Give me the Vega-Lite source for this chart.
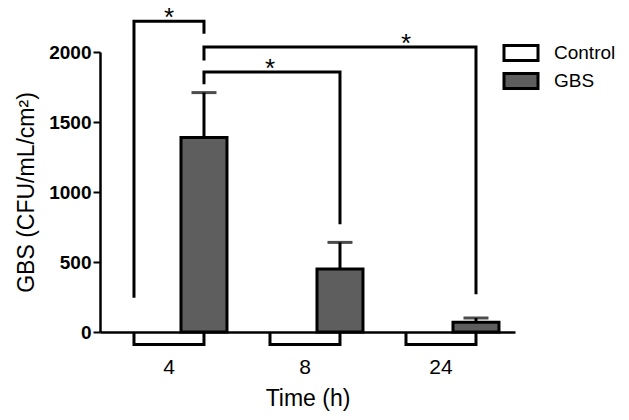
{
  "$schema": "https://vega.github.io/schema/vega-lite/v6.json",
  "width": 415,
  "height": 280,
  "autosize": {"type": "none"},
  "padding": {"left": 100, "top": 52, "right": 114, "bottom": 88},
  "config": {"view": {"stroke": null}, "font": "Liberation Sans"},
  "datasets": {
    "bars": [
      {"time": "4", "condition": "Control", "mean": 0, "upper": 0},
      {"time": "4", "condition": "GBS", "mean": 1390, "upper": 1710},
      {"time": "8", "condition": "Control", "mean": 0, "upper": 0},
      {"time": "8", "condition": "GBS", "mean": 450, "upper": 640},
      {"time": "24", "condition": "Control", "mean": 0, "upper": 0},
      {"time": "24", "condition": "GBS", "mean": 70, "upper": 100}
    ],
    "brackets": [
      {"bracket": "4h Control vs 4h GBS", "step": 1, "time": "4", "condition": "Control", "level": 245},
      {"bracket": "4h Control vs 4h GBS", "step": 2, "time": "4", "condition": "Control", "level": 2220},
      {"bracket": "4h Control vs 4h GBS", "step": 3, "time": "4", "condition": "GBS", "level": 2220},
      {"bracket": "4h Control vs 4h GBS", "step": 4, "time": "4", "condition": "GBS", "level": 2130},
      {"bracket": "4h GBS vs 24h GBS", "step": 1, "time": "4", "condition": "GBS", "level": 1940},
      {"bracket": "4h GBS vs 24h GBS", "step": 2, "time": "4", "condition": "GBS", "level": 2035},
      {"bracket": "4h GBS vs 24h GBS", "step": 3, "time": "24", "condition": "GBS", "level": 2035},
      {"bracket": "4h GBS vs 24h GBS", "step": 4, "time": "24", "condition": "GBS", "level": 270},
      {"bracket": "4h GBS vs 8h GBS", "step": 1, "time": "4", "condition": "GBS", "level": 1770},
      {"bracket": "4h GBS vs 8h GBS", "step": 2, "time": "4", "condition": "GBS", "level": 1857},
      {"bracket": "4h GBS vs 8h GBS", "step": 3, "time": "8", "condition": "GBS", "level": 1857},
      {"bracket": "4h GBS vs 8h GBS", "step": 4, "time": "8", "condition": "GBS", "level": 770}
    ],
    "groupTicks": [
      {"group": "4", "step": 1, "time": "4", "condition": "Control", "level": 0},
      {"group": "4", "step": 2, "time": "4", "condition": "Control", "level": -90},
      {"group": "4", "step": 3, "time": "4", "condition": "GBS", "level": -90},
      {"group": "4", "step": 4, "time": "4", "condition": "GBS", "level": 0},
      {"group": "8", "step": 1, "time": "8", "condition": "Control", "level": 0},
      {"group": "8", "step": 2, "time": "8", "condition": "Control", "level": -90},
      {"group": "8", "step": 3, "time": "8", "condition": "GBS", "level": -90},
      {"group": "8", "step": 4, "time": "8", "condition": "GBS", "level": 0},
      {"group": "24", "step": 1, "time": "24", "condition": "Control", "level": 0},
      {"group": "24", "step": 2, "time": "24", "condition": "Control", "level": -90},
      {"group": "24", "step": 3, "time": "24", "condition": "GBS", "level": -90},
      {"group": "24", "step": 4, "time": "24", "condition": "GBS", "level": 0}
    ],
    "starCenter": [
      {"time": "4", "level": 2220, "label": "*"}
    ],
    "starOffset": [
      {"time": "8", "condition": "Control", "level": 1857, "label": "*"},
      {"time": "24", "condition": "Control", "level": 2035, "label": "*"}
    ]
  },
  "encoding": {
    "x": {
      "field": "time",
      "type": "ordinal",
      "scale": {"domain": ["4", "8", "24"], "paddingInner": 0, "paddingOuter": 0.0257, "align": 0.14},
      "axis": {
        "title": "Time (h)",
        "titleFontSize": 23,
        "titleFontWeight": "normal",
        "titleColor": "black",
        "titlePadding": 10,
        "labelFontSize": 21,
        "labelColor": "black",
        "labelAngle": 0,
        "labelPadding": 24,
        "ticks": false,
        "domainWidth": 2.5,
        "domainColor": "black"
      }
    }
  },
  "layer": [
    {
      "data": {"name": "bars"},
      "mark": {"type": "bar", "stroke": "black"},
      "encoding": {
        "xOffset": {"field": "condition", "type": "nominal", "scale": {"domain": ["Control", "GBS"], "paddingInner": 0.343, "paddingOuter": 0.143}},
        "y": {
          "field": "mean",
          "type": "quantitative",
          "scale": {"domain": [0, 2000], "nice": false},
          "axis": {
            "title": "GBS (CFU/mL/cm²)",
            "titleFontSize": 23,
            "titleFontWeight": "normal",
            "titleColor": "black",
            "titlePadding": 10,
            "values": [0, 500, 1000, 1500, 2000],
            "format": "d",
            "labelFontSize": 19,
            "labelFontWeight": "bold",
            "labelColor": "black",
            "tickSize": 7,
            "tickWidth": 2,
            "tickColor": "black",
            "domainWidth": 2.5,
            "domainColor": "black",
            "grid": false
          }
        },
        "fill": {
          "field": "condition",
          "type": "nominal",
          "scale": {"domain": ["Control", "GBS"], "range": ["white", "#5e5e5e"]},
          "legend": {
            "title": null,
            "orient": "none",
            "legendX": 408,
            "legendY": -12,
            "symbolType": "M-1.5,-0.66H1.5V0.66H-1.5Z",
            "symbolSize": 514,
            "symbolStrokeColor": "black",
            "symbolStrokeWidth": 3,
            "labelFontSize": 19,
            "labelColor": "black",
            "labelOffset": 20,
            "rowPadding": 0,
            "padding": 0
          }
        },
        "strokeWidth": {"condition": {"test": "datum.condition === 'GBS'", "value": 3}, "value": 0}
      }
    },
    {
      "data": {"name": "bars"},
      "transform": [{"filter": "datum.condition === 'GBS'"}],
      "mark": {"type": "rule", "color": "black", "strokeWidth": 3},
      "encoding": {
        "xOffset": {"field": "condition", "type": "nominal"},
        "y": {"field": "mean", "type": "quantitative"},
        "y2": {"field": "upper"}
      }
    },
    {
      "data": {"name": "bars"},
      "transform": [{"filter": "datum.condition === 'GBS'"}],
      "mark": {"type": "tick", "color": "black", "thickness": 3, "size": 25, "orient": "horizontal"},
      "encoding": {
        "xOffset": {"field": "condition", "type": "nominal"},
        "y": {"field": "upper", "type": "quantitative"}
      }
    },
    {
      "data": {"name": "brackets"},
      "mark": {"type": "line", "color": "black", "strokeWidth": 3, "strokeJoin": "miter"},
      "encoding": {
        "xOffset": {"field": "condition", "type": "nominal"},
        "y": {"field": "level", "type": "quantitative"},
        "detail": {"field": "bracket"},
        "order": {"field": "step"}
      }
    },
    {
      "data": {"name": "groupTicks"},
      "mark": {"type": "line", "color": "black", "strokeWidth": 3, "strokeJoin": "miter"},
      "encoding": {
        "xOffset": {"field": "condition", "type": "nominal"},
        "y": {"field": "level", "type": "quantitative"},
        "detail": {"field": "group"},
        "order": {"field": "step"}
      }
    },
    {
      "data": {"name": "starCenter"},
      "mark": {"type": "text", "fontSize": 26, "baseline": "alphabetic", "dy": 5, "color": "black"},
      "encoding": {
        "y": {"field": "level", "type": "quantitative"},
        "text": {"field": "label"}
      }
    },
    {
      "data": {"name": "starOffset"},
      "mark": {"type": "text", "fontSize": 26, "baseline": "alphabetic", "dy": 5, "color": "black"},
      "encoding": {
        "xOffset": {"field": "condition", "type": "nominal"},
        "y": {"field": "level", "type": "quantitative"},
        "text": {"field": "label"}
      }
    }
  ]
}
